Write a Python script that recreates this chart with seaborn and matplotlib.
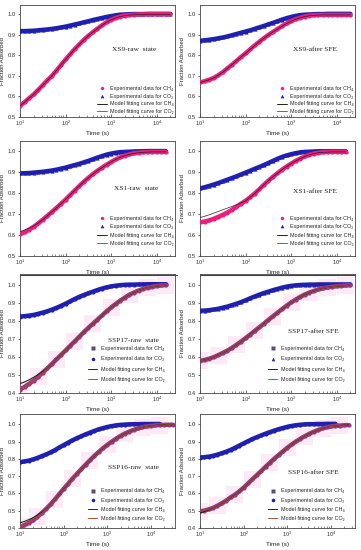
import matplotlib
matplotlib.use('Agg')
import matplotlib.pyplot as plt
from matplotlib.lines import Line2D
from matplotlib.ticker import FixedLocator, LogLocator, NullFormatter
import seaborn as sns

sns.set_style('ticks')
plt.rcParams['font.family'] = ['Liberation Sans', 'DejaVu Sans']
plt.rcParams['mathtext.fontset'] = 'custom'
plt.rcParams['mathtext.rm'] = 'Liberation Sans'

# time grid of the measurements (s)
times = [10, 12.6, 15.8, 20, 25.1, 31.6, 39.8, 50.1, 63.1, 79.4,
         100, 126, 158, 200, 251, 316, 398, 501, 631, 794,
         1000, 1259, 1585, 1995, 2512, 3162, 3981, 5012, 6310, 7943,
         10000, 12589, 15849, 19953, 25119, 31623]

# XS9 raw
xs9_raw_ch4 = [0.555, 0.572, 0.591, 0.610, 0.632, 0.655, 0.678, 0.700, 0.726, 0.753,
               0.780, 0.805, 0.830, 0.853, 0.875, 0.895, 0.913, 0.930, 0.946, 0.961,
               0.973, 0.982, 0.989, 0.993, 0.996, 0.998, 0.999, 0.999, 1.000, 1.000,
               1.000, 1.000, 1.000, 1.000]
xs9_raw_co2 = [0.918, 0.918, 0.919, 0.920, 0.922, 0.924, 0.926, 0.929, 0.932, 0.936,
               0.940, 0.945, 0.950, 0.955, 0.961, 0.966, 0.972, 0.977, 0.982, 0.987,
               0.991, 0.995, 0.998, 0.999, 1.000, 1.001, 1.001, 1.001, 1.002, 1.002,
               1.002, 1.002, 1.002, 1.002]
xs9_raw_ch4_fit = list(xs9_raw_ch4)
xs9_raw_co2_fit = list(xs9_raw_co2)

# XS9 after SFE
xs9_sfe_ch4 = [0.668, 0.674, 0.681, 0.690, 0.703, 0.718, 0.736, 0.754, 0.773, 0.792,
               0.810, 0.829, 0.848, 0.866, 0.883, 0.899, 0.914, 0.928, 0.942, 0.955,
               0.966, 0.976, 0.983, 0.989, 0.993, 0.995, 0.996, 0.997, 0.997, 0.997,
               0.997, 0.997, 0.997, 0.997]
xs9_sfe_co2 = [0.871, 0.873, 0.876, 0.879, 0.883, 0.887, 0.892, 0.898, 0.904, 0.910,
               0.916, 0.922, 0.929, 0.936, 0.943, 0.951, 0.958, 0.966, 0.974, 0.981,
               0.987, 0.992, 0.996, 0.998, 0.999, 1.000, 1.001, 1.001, 1.002, 1.002,
               1.002, 1.002, 1.002, 1.002]
xs9_sfe_ch4_fit = list(xs9_sfe_ch4)
xs9_sfe_co2_fit = list(xs9_sfe_co2)

# XS1 raw
xs1_raw_ch4 = [0.604, 0.614, 0.626, 0.640, 0.656, 0.674, 0.692, 0.711, 0.730, 0.750,
               0.770, 0.792, 0.813, 0.835, 0.855, 0.874, 0.892, 0.908, 0.923, 0.937,
               0.950, 0.962, 0.972, 0.980, 0.986, 0.991, 0.994, 0.996, 0.997, 0.998,
               0.998, 0.998, 0.998]
xs1_raw_co2 = [0.895, 0.896, 0.897, 0.899, 0.901, 0.903, 0.906, 0.909, 0.913, 0.918,
               0.923, 0.929, 0.935, 0.941, 0.948, 0.955, 0.963, 0.971, 0.978, 0.985,
               0.990, 0.994, 0.997, 0.998, 0.999, 1.000, 1.001, 1.001, 1.002, 1.002,
               1.002, 1.002, 1.002]
xs1_raw_ch4_fit = [0.617, 0.624, 0.633, 0.644, 0.658] + xs1_raw_ch4[5:]
xs1_raw_co2_fit = list(xs1_raw_co2)

# XS1 after SFE
xs1_sfe_ch4 = [0.661, 0.665, 0.670, 0.678, 0.687, 0.697, 0.708, 0.721, 0.736, 0.750,
               0.764, 0.781, 0.799, 0.819, 0.840, 0.860, 0.879, 0.896, 0.913, 0.928,
               0.942, 0.955, 0.966, 0.976, 0.984, 0.990, 0.994, 0.996, 0.997, 0.998,
               0.998, 0.998, 0.998]
xs1_sfe_co2 = [0.823, 0.829, 0.835, 0.842, 0.849, 0.857, 0.865, 0.873, 0.881, 0.890,
               0.899, 0.908, 0.917, 0.926, 0.935, 0.945, 0.955, 0.965, 0.974, 0.981,
               0.987, 0.992, 0.996, 0.998, 0.999, 1.000, 1.001, 1.001, 1.001, 1.001,
               1.001, 1.001, 1.001]
xs1_sfe_ch4_fit = [0.684, 0.690, 0.697, 0.705, 0.713, 0.721, 0.729, 0.737, 0.745, 0.754] + xs1_sfe_ch4[10:]
xs1_sfe_co2_fit = list(xs1_sfe_co2)

# SSP17 raw
ssp17_raw_ch4 = [0.419, 0.434, 0.451, 0.469, 0.490, 0.513, 0.537, 0.561, 0.586, 0.611,
                 0.636, 0.661, 0.686, 0.712, 0.737, 0.761, 0.784, 0.807, 0.830, 0.853,
                 0.874, 0.894, 0.912, 0.929, 0.945, 0.957, 0.968, 0.977, 0.984, 0.989,
                 0.993, 0.996, 0.998]
ssp17_raw_co2 = [0.824, 0.826, 0.829, 0.833, 0.839, 0.846, 0.853, 0.862, 0.872, 0.883,
                 0.895, 0.908, 0.921, 0.933, 0.943, 0.953, 0.962, 0.971, 0.979, 0.986,
                 0.991, 0.995, 0.998, 1.000, 1.001, 1.001, 1.002, 1.002, 1.003, 1.003,
                 1.003, 1.003, 1.003]
ssp17_raw_ch4_fit = [0.452, 0.461, 0.473, 0.487, 0.503, 0.520] + ssp17_raw_ch4[6:]
ssp17_raw_co2_fit = list(ssp17_raw_ch4)

# SSP17 after SFE
ssp17_sfe_ch4 = [0.578, 0.583, 0.590, 0.599, 0.610, 0.622, 0.635, 0.650, 0.667, 0.685,
                 0.704, 0.724, 0.744, 0.764, 0.784, 0.805, 0.825, 0.845, 0.865, 0.884,
                 0.902, 0.918, 0.933, 0.946, 0.957, 0.966, 0.974, 0.980, 0.985, 0.989,
                 0.992, 0.994, 0.996, 0.997]
ssp17_sfe_co2 = [0.856, 0.857, 0.859, 0.863, 0.867, 0.873, 0.879, 0.887, 0.895, 0.904,
                 0.914, 0.925, 0.935, 0.945, 0.954, 0.962, 0.970, 0.977, 0.984, 0.990,
                 0.994, 0.997, 0.999, 1.000, 1.001, 1.001, 1.002, 1.002, 1.002, 1.002,
                 1.002, 1.002, 1.002, 1.002]
ssp17_sfe_ch4_fit = list(ssp17_sfe_ch4)
ssp17_sfe_co2_fit = list(ssp17_sfe_ch4)

# SSP16 raw
ssp16_raw_ch4 = [0.406, 0.416, 0.429, 0.445, 0.465, 0.487, 0.511, 0.537, 0.566, 0.597,
                 0.627, 0.656, 0.685, 0.713, 0.740, 0.766, 0.792, 0.817, 0.840, 0.862,
                 0.882, 0.900, 0.917, 0.933, 0.947, 0.958, 0.968, 0.976, 0.983, 0.988,
                 0.991, 0.994, 0.996, 0.997, 0.998, 0.998]
ssp16_raw_co2 = [0.781, 0.785, 0.790, 0.797, 0.806, 0.816, 0.826, 0.838, 0.851, 0.866,
                 0.880, 0.894, 0.907, 0.920, 0.931, 0.942, 0.952, 0.962, 0.971, 0.978,
                 0.985, 0.990, 0.994, 0.997, 0.999, 1.000, 1.001, 1.001, 1.002, 1.002,
                 1.002, 1.002, 1.002]
ssp16_raw_ch4_fit = [0.430, 0.438, 0.448, 0.460, 0.475, 0.492] + ssp16_raw_ch4[6:]
ssp16_raw_co2_fit = [0.418, 0.427, 0.438, 0.451, 0.468] + ssp16_raw_ch4[5:]

# SSP16 after SFE
ssp16_sfe_ch4 = [0.496, 0.501, 0.508, 0.517, 0.529, 0.543, 0.559, 0.577, 0.593, 0.612,
                 0.634, 0.658, 0.682, 0.706, 0.730, 0.754, 0.778, 0.801, 0.823, 0.844,
                 0.865, 0.884, 0.901, 0.917, 0.932, 0.945, 0.957, 0.967, 0.976, 0.983,
                 0.988, 0.991, 0.993, 0.995, 0.996]
ssp16_sfe_co2 = [0.808, 0.810, 0.813, 0.818, 0.825, 0.833, 0.842, 0.852, 0.864, 0.877,
                 0.890, 0.903, 0.915, 0.926, 0.936, 0.946, 0.955, 0.964, 0.972, 0.979,
                 0.986, 0.991, 0.995, 0.998, 1.000, 1.001, 1.001, 1.002, 1.002, 1.003,
                 1.003, 1.003]
ssp16_sfe_ch4_fit = [0.488, 0.495, 0.504] + ssp16_sfe_ch4[3:]
ssp16_sfe_co2_fit = list(ssp16_sfe_ch4)

titles = ['XS9-raw  state', 'XS9-after SFE', 'XS1-raw  state', 'XS1-after SFE',
          'SSP17-raw  state', 'SSP17-after SFE', 'SSP16-raw  state', 'SSP16-after SFE']

panels = [
    (xs9_raw_ch4, xs9_raw_ch4_fit, xs9_raw_co2, xs9_raw_co2_fit),
    (xs9_sfe_ch4, xs9_sfe_ch4_fit, xs9_sfe_co2, xs9_sfe_co2_fit),
    (xs1_raw_ch4, xs1_raw_ch4_fit, xs1_raw_co2, xs1_raw_co2_fit),
    (xs1_sfe_ch4, xs1_sfe_ch4_fit, xs1_sfe_co2, xs1_sfe_co2_fit),
    (ssp17_raw_ch4, ssp17_raw_ch4_fit, ssp17_raw_co2, ssp17_raw_co2_fit),
    (ssp17_sfe_ch4, ssp17_sfe_ch4_fit, ssp17_sfe_co2, ssp17_sfe_co2_fit),
    (ssp16_raw_ch4, ssp16_raw_ch4_fit, ssp16_raw_co2, ssp16_raw_co2_fit),
    (ssp16_sfe_ch4, ssp16_sfe_ch4_fit, ssp16_sfe_co2, ssp16_sfe_co2_fit),
]

# layout per row: bottom, height, ylim, xmax, legend x, legend y, legend spacing
row_cfg = [
    (0.7873, 0.2036, (0.5, 1.045), 25000, 0.50, 0.025, 0.5),
    (0.5345, 0.2091, (0.5, 1.05), 25000, 0.50, 0.09, 0.58),
    (0.2855, 0.2164, (0.4, 1.06), 25000, 0.44, 0.09, 1.0),
    (0.0400, 0.2073, (0.4, 1.06), 35000, 0.44, 0.063, 0.76),
]
col_left = [0.0554, 0.554]
ax_w = 0.429
title_pos = [(0.74, 0.60), (0.74, 0.60), (0.75, 0.59), (0.74, 0.56),
             (0.73, 0.44), (0.73, 0.515), (0.73, 0.535), (0.73, 0.49)]

pink = '#ec1f7c'
blue = '#2020b0'
co2_markers = ['^', '^', '^', '^', 'o', '^', 'o', 'o']

fig = plt.figure(figsize=(3.61, 5.5), dpi=100)
fig.set_facecolor('white')

for i, (ch4, ch4_fit, co2, co2_fit) in enumerate(panels):
    r, c = divmod(i, 2)
    bottom, height, ylim, xmax, leg_x, leg_y, leg_sp = row_cfg[r]
    ax = fig.add_axes([col_left[c], bottom, ax_w, height])
    t_ch4 = times[:len(ch4)]
    t_co2 = times[:len(co2)]
    ssp = r >= 2

    if ssp:
        # faint pink blocks behind the CH4 curve
        sns.scatterplot(x=t_ch4[::4], y=ch4[::4], ax=ax, marker='s', s=150,
                        color='#fdeaf6', edgecolor='none', zorder=1, legend=False)
        ch4_col = '#9c3a7c'
        fit2_col = '#a0522d'
    else:
        ch4_col = pink
        fit2_col = '#ff2a2a'

    if not ssp:
        sns.lineplot(x=t_co2, y=co2_fit, ax=ax, color=fit2_col, lw=0.6, zorder=2)
    sns.lineplot(x=t_co2, y=co2, ax=ax, color=blue, lw=3.2, marker=co2_markers[i],
                 ms=3, mec='none', zorder=3)
    sns.lineplot(x=t_ch4, y=ch4, ax=ax, color=ch4_col, lw=3.2, marker='o',
                 ms=3, mec='none', zorder=4)
    sns.lineplot(x=t_ch4, y=ch4_fit, ax=ax, color='#222222', lw=0.5 if not ssp else 0.8, zorder=5)
    if ssp:
        sns.lineplot(x=t_ch4, y=co2_fit, ax=ax, color=fit2_col, lw=0.6, zorder=6)

    ax.set_xscale('log')
    ax.set_xlim(10, xmax)
    ax.set_ylim(*ylim)
    ax.xaxis.set_major_locator(FixedLocator([10, 100, 1000, 10000]))
    ax.set_xticklabels(['10$^1$', '10$^2$', '10$^3$', '10$^4$'])
    ax.xaxis.set_minor_locator(LogLocator(base=10, subs=range(2, 10)))
    ax.xaxis.set_minor_formatter(NullFormatter())
    yt = [0.5, 0.6, 0.7, 0.8, 0.9, 1.0] if r < 2 else [0.4, 0.5, 0.6, 0.7, 0.8, 0.9, 1.0]
    ax.set_yticks(yt)
    ax.set_yticklabels([f'{v:.1f}' for v in yt])
    ax.tick_params(axis='x', which='major', direction='in', length=2.5, width=0.5,
                   labelsize=4, pad=1.5, colors='#333333')
    ax.tick_params(axis='x', which='minor', direction='in', length=1.4, width=0.4, colors='#333333')
    ax.tick_params(axis='y', direction='out', length=1.8, width=0.5, labelsize=4.2,
                   pad=1, colors='#333333')
    for sp in ax.spines.values():
        sp.set_visible(True)
        sp.set_linewidth(0.6)
        sp.set_color('#444444')

    ax.set_xlabel('Time (s)', fontsize=4.6, labelpad=2, color='#222222')
    ax.set_ylabel('Fraction Adsorbed', fontsize=4.2, labelpad=2, color='#222222')

    tx, ty = title_pos[i]
    ax.text(tx, ty, titles[i], transform=ax.transAxes, ha='center', va='center',
            fontsize=5.3, family='Liberation Serif', color='#222222')

    handles = [
        Line2D([], [], ls='none', marker='o' if not ssp else 's', ms=2.4,
               color=ch4_col if not ssp else '#5c4a7e', mec='none'),
        Line2D([], [], ls='none', marker=co2_markers[i], ms=2.6, color=blue, mec='none'),
        Line2D([], [], color='#222222', lw=0.7),
        Line2D([], [], color=fit2_col, lw=0.7),
    ]
    labels = ['Experimental data for CH₄', 'Experimental data for CO₂',
              'Model fitting curve for CH₄', 'Model fitting curve for CO₂']
    ax.legend(handles, labels, loc='lower left', bbox_to_anchor=(leg_x, leg_y),
              frameon=False, handlelength=1.7, handletextpad=0.6,
              labelspacing=leg_sp, borderpad=0, borderaxespad=0,
              prop={'family': ['Liberation Sans', 'DejaVu Sans'], 'size': 3.9})

# thin rules under the second row
for x0, x1 in [(0.0554, 0.49), (0.554, 0.983)]:
    fig.add_artist(Line2D([x0, x1], [0.5, 0.5], transform=fig.transFigure,
                          color='#444444', lw=0.8))

fig.savefig('out.png', dpi=100)
